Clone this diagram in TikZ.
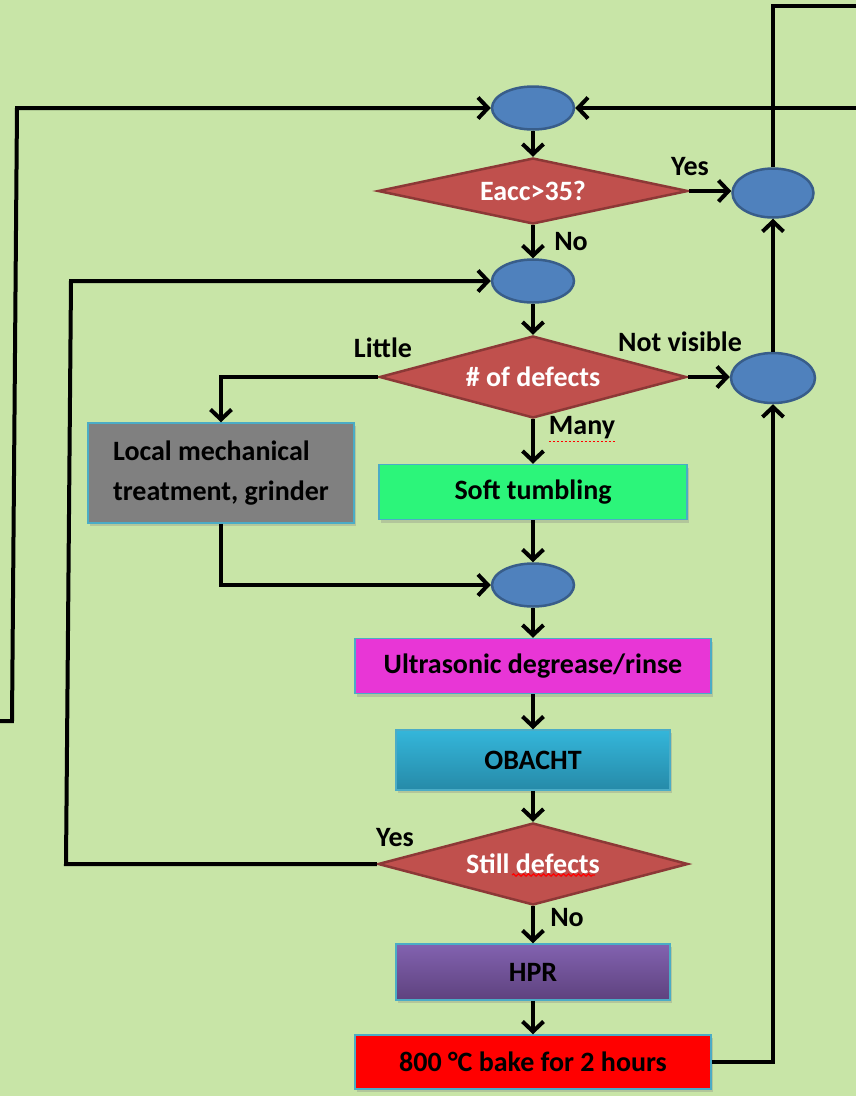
\documentclass[tikz,border=0pt]{standalone}
\usepackage{fontspec}
\setmainfont{Carlito}
\usetikzlibrary{shapes.geometric,arrows.meta,shadows,decorations.pathmorphing}
\definecolor{bg}{RGB}{200,229,167}
\definecolor{ellfill}{RGB}{79,129,189}
\definecolor{elldraw}{RGB}{56,93,138}
\definecolor{diafill}{RGB}{192,80,77}
\definecolor{diadraw}{RGB}{140,56,54}
\definecolor{boxedge}{RGB}{75,172,198}
\definecolor{grayfill}{RGB}{128,128,128}
\definecolor{greenfill}{RGB}{44,245,122}
\definecolor{magfill}{RGB}{232,54,214}
\definecolor{cyantop}{RGB}{52,182,218}
\definecolor{cyanbot}{RGB}{38,138,168}
\definecolor{purtop}{RGB}{130,98,176}
\definecolor{purbot}{RGB}{94,66,126}
\definecolor{bakered}{RGB}{255,0,0}
\tikzset{
  junction/.style={ellipse, fill=ellfill, draw=elldraw, line width=2.5pt, inner sep=0pt, minimum width=82pt, minimum height=43pt},
  decision/.style={diamond, fill=diafill, draw=diadraw, line width=2.5pt, inner sep=0pt, text=white},
  procbox/.style={rectangle, draw=boxedge, line width=1.5pt, inner sep=0pt, text=black,
    drop shadow={shadow xshift=2pt, shadow yshift=-3pt, opacity=0.3}},
  flow/.style={line width=4pt, line join=miter, -{Straight Barb[length=10pt, width=21pt]}},
  plainline/.style={line width=4pt, line join=miter},
  lbl/.style={text=black, inner sep=0pt}
}
\begin{document}
\begin{tikzpicture}[x=1pt, y=-1pt, font=\fontsize{28}{34}\selectfont\bfseries]
\useasboundingbox (0,0) rectangle (856,1096);
\fill[bg] (0,0) rectangle (856,1096);

% junctions
\node[junction] (e1) at (533,108) {};
\node[junction] (e2) at (533,281) {};
\node[junction] (e5) at (533,585) {};
\node[junction, minimum width=81pt, minimum height=49pt] (e3) at (773,193) {};
\node[junction, minimum width=84pt, minimum height=50pt] (e4) at (773,378) {};

% decisions
\node[decision, aspect=4.7, minimum width=310pt, minimum height=66pt] (d1) at (533,191) {Eacc>35?};
\node[decision, aspect=3.7, minimum width=307pt, minimum height=82pt] (d2) at (533,377) {\# of defects};
\node[decision, aspect=3.8, minimum width=310pt, minimum height=82pt] (d3) at (533,864) {Still defects};

% process boxes
\node[procbox, fill=grayfill, minimum width=266pt, minimum height=100pt, align=left,
      font=\fontsize{28}{40}\selectfont\bfseries] (gray) at (221,473) {Local mechanical\\treatment, grinder};
\node[procbox, fill=greenfill, minimum width=308pt, minimum height=55pt] (green) at (533,492) {Soft tumbling};
\node[procbox, fill=magfill, minimum width=356pt, minimum height=55pt] (mag) at (533,666) {Ultrasonic degrease/rinse};
\node[procbox, top color=cyantop, bottom color=cyanbot, minimum width=274pt, minimum height=60pt] (obacht) at (533,760) {OBACHT};
\node[procbox, top color=purtop, bottom color=purbot, minimum width=274pt, minimum height=56pt] (hpr) at (533,972) {HPR};
\node[procbox, fill=bakered, minimum width=356pt, minimum height=54pt] (bake) at (533,1062) {800 °C bake for 2 hours};

% labels
\node[lbl] (yes1) at (690,167) {Yes};
\node[lbl] (no1) at (571,242) {No};
\node[lbl] (little) at (383,348) {Little};
\node[lbl] (notvis) at (680,342) {Not visible};
\node[lbl] (many) at (582,428) {Many};
\node[lbl] (yes2) at (395,838) {Yes};
\node[lbl] (no2) at (567,918) {No};

% spell-check marks
\draw[red, line width=1.5pt, dash pattern=on 2pt off 2pt] ([yshift=-2pt]many.south west) -- ([yshift=-2pt]many.south east);
\draw[red, line width=1.2pt, decorate, decoration={snake, amplitude=1.2pt, segment length=5pt}]
  (512,875) -- (595,875);

% coordinates for free ends / bends
\coordinate (lin) at (0,721);
\coordinate (lb1) at (12,721);
\coordinate (lb2) at (17,108);
\coordinate (rin) at (856,108);
\coordinate (tc) at (773,6);
\coordinate (tr) at (856,6);
\coordinate (lp1) at (66,864);
\coordinate (lp2) at (71,281);

% main column
\draw[flow] (e1.south) -- (d1.north);
\draw[flow] (d1.south) -- (e2.north);
\draw[flow] (e2.south) -- (d2.north);
\draw[flow] (d2.south) -- (green.north);
\draw[flow] (green.south) -- (e5.north);
\draw[flow] (e5.south) -- (mag.north);
\draw[flow] (mag.south) -- (obacht.north);
\draw[flow] (obacht.south) -- (d3.north);
\draw[flow] (d3.south) -- (hpr.north);
\draw[flow] (hpr.south) -- (bake.north);

% side branches
\draw[flow] (d1.east) -- (d1.east -| e3.west);
\draw[flow] (d2.east) -- (d2.east -| e4.west);
\draw[flow] (d2.west) -| (gray.north);
\draw[flow] (gray.south) |- (e5.west);
\draw[flow] (d3.west) -- (lp1) -- (lp2) -- (e2.west);
\draw[flow] (bake.east) -| (e4.south);
\draw[flow] (e4.north) -- (e3.south);
\draw[plainline] (e3.north) -- (tc) -- (tr);
\draw[flow] (rin) -- (e1.east);
\draw[flow] (lin) -- (lb1) -- (lb2) -- (e1.west);
\end{tikzpicture}
\end{document}
